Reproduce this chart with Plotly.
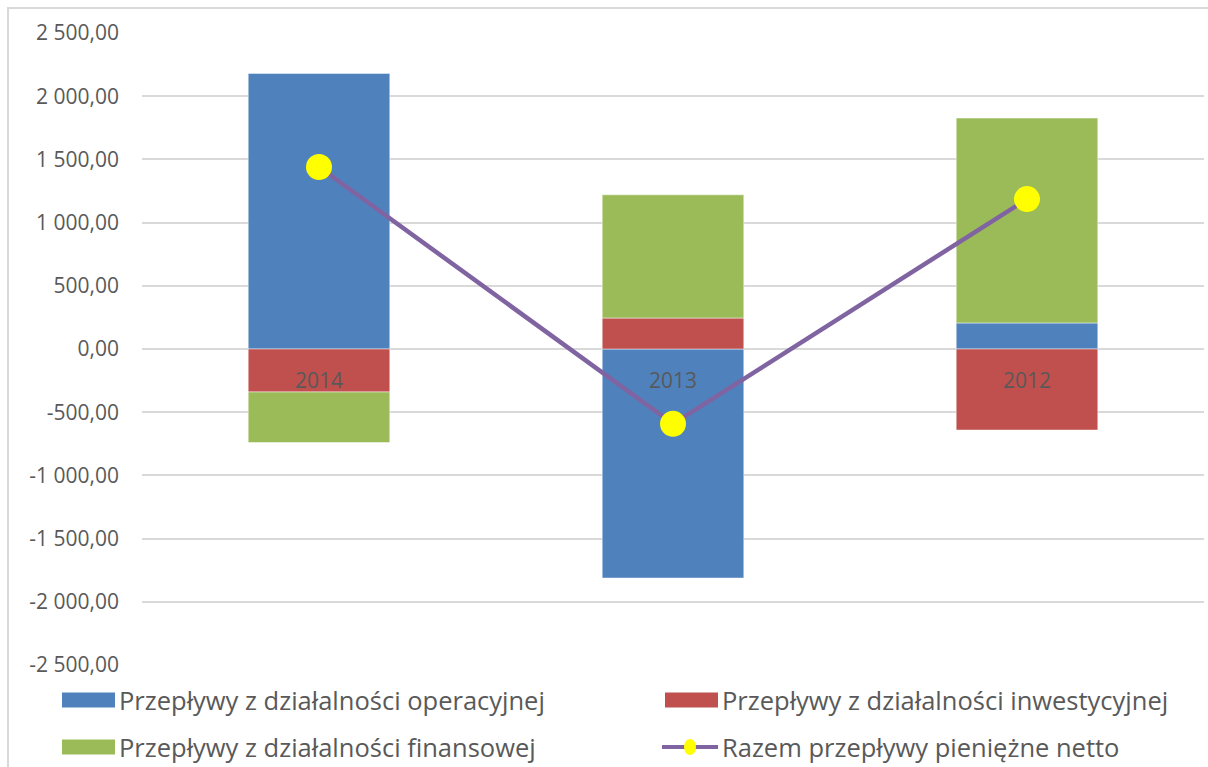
import plotly.graph_objects as go

# Cash flow components by year (PLN thousands)
years = ["2014", "2013", "2012"]
operacyjne = [2180, -1812, 206]
inwestycyjne = [-340, 245, -641]
finansowe = [-400, 975, 1621]
netto = [1440, -592, 1186]

series_names = [
    "Przepływy z działalności operacyjnej",
    "Przepływy z działalności inwestycyjnej",
    "Przepływy z działalności finansowej",
    "Razem przepływy pieniężne netto",
]

tick_vals = [2500, 2000, 1500, 1000, 500, 0, -500, -1000, -1500, -2000, -2500]
tick_text = ["2 500,00", "2 000,00", "1 500,00", "1 000,00", "500,00", "0,00",
             "-500,00", "-1 000,00", "-1 500,00", "-2 000,00", "-2 500,00"]

BLUE, RED, GREEN = "#4F81BD", "#C0504D", "#9BBB59"
PURPLE, YELLOW = "#8064A2", "#FFFF00"
TEXT = "#595959"
GRID = "#D9D9D9"
FONT = "Open Sans"

W, H = 1208, 767
L, R, T, B = 142, 4, 33, 102
PW, PH = W - L - R, H - T - B


def px(x):
    return (x - L) / PW


def py(y):
    return (H - B - y) / PH


fig = go.Figure()
for vals, name, color in [(operacyjne, series_names[0], BLUE),
                          (inwestycyjne, series_names[1], RED),
                          (finansowe, series_names[2], GREEN)]:
    fig.add_trace(go.Bar(x=years, y=vals, name=name, marker_color=color,
                         marker_line=dict(color="rgba(255,255,255,0.6)", width=0.8),
                         showlegend=False))

fig.add_trace(go.Scatter(x=years, y=netto, name=series_names[3], mode="lines+markers",
                         line=dict(color=PURPLE, width=4.5),
                         marker=dict(color=YELLOW, size=26, line=dict(width=0)),
                         showlegend=False))

# category labels sitting just below the zero line (positioned by category index)
for i, yr in enumerate(years):
    fig.add_annotation(x=i, y=0, xref="x", yref="y", text=yr, showarrow=False,
                       yanchor="middle", yshift=-31,
                       font=dict(family=FONT, size=21, color=TEXT))

shapes = []
# outer chart frame
shapes.append(dict(type="rect", xref="paper", yref="paper",
                   x0=px(8), x1=px(1215), y0=py(8), y1=py(775),
                   line=dict(color=GRID, width=2), layer="below"))

# legend entries
legend_items = [
    (series_names[0], BLUE, 62, 700, "box"),
    (series_names[1], RED, 665, 700, "box"),
    (series_names[2], GREEN, 62, 747, "box"),
    (series_names[3], PURPLE, 665, 747, "line"),
]
for name, color, x0, yc, kind in legend_items:
    if kind == "box":
        shapes.append(dict(type="rect", xref="paper", yref="paper",
                           x0=px(x0), x1=px(x0 + 53), y0=py(yc - 7.5), y1=py(yc + 7.5),
                           fillcolor=color, line=dict(width=0)))
    else:
        shapes.append(dict(type="line", xref="paper", yref="paper",
                           x0=px(x0 - 3), x1=px(x0 + 53), y0=py(yc), y1=py(yc),
                           line=dict(color=color, width=4)))
        shapes.append(dict(type="circle", xref="paper", yref="paper",
                           x0=px(x0 + 19), x1=px(x0 + 31), y0=py(yc - 8), y1=py(yc + 8),
                           fillcolor=YELLOW, line=dict(width=0)))
    fig.add_annotation(x=px(x0 + 55), y=py(yc), xref="paper", yref="paper",
                       text=name, showarrow=False, xanchor="left", yanchor="middle",
                       font=dict(family=FONT, size=25.5, color=TEXT))

fig.update_layout(
    width=W, height=H,
    margin=dict(l=L, r=R, t=T, b=B),
    barmode="relative",
    bargap=0.6,
    plot_bgcolor="white",
    paper_bgcolor="white",
    shapes=shapes,
    showlegend=False,
    font=dict(family=FONT, color=TEXT),
)
fig.update_xaxes(type="category", range=[-0.5, 2.5], showticklabels=False,
                 showgrid=False, zeroline=False, showline=False, ticks="")
fig.update_yaxes(range=[-2500, 2500], tickvals=tick_vals, ticktext=tick_text,
                 showgrid=True, gridcolor=GRID, gridwidth=1.5,
                 zeroline=True, zerolinecolor=GRID, zerolinewidth=1.5,
                 showline=False, ticks="", ticklabelstandoff=22,
                 tickfont=dict(family=FONT, size=21, color=TEXT))

fig.write_html("out.html")
